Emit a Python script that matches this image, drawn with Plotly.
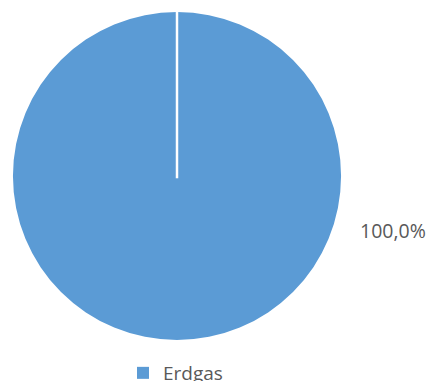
import plotly.graph_objects as go

labels = ["Erdgas"]
values = [100.0]
colors = ["#5B9BD5"]
pct_labels = ["100,0%"]

W, H = 428, 381
# pie placement (pixels)
left, right, top, bottom = 13, 341, 12, 340
dx0, dx1 = left / W, right / W
dy0, dy1 = 1 - bottom / H, 1 - top / H
cx = (dx0 + dx1) / 2
cy = (dy0 + dy1) / 2

fig = go.Figure(go.Pie(
    labels=labels, values=values, sort=False, direction="clockwise", rotation=0,
    marker=dict(colors=colors, line=dict(color="white", width=0)),
    textinfo="none", hoverinfo="label+percent",
    domain=dict(x=[dx0, dx1], y=[dy0, dy1]),
    showlegend=True,
))

# radial separator line (slice start boundary at 12 o'clock)
fig.add_shape(type="line", xref="paper", yref="paper",
              x0=cx, x1=cx, y0=cy - 0.006, y1=dy1,
              line=dict(color="white", width=2.5))

fig.add_annotation(text=pct_labels[0], xref="paper", yref="paper",
                   x=393 / W, y=1 - 230 / H, xanchor="center", yanchor="middle",
                   showarrow=False,
                   font=dict(family="Open Sans, sans-serif", size=19.5, color="#595959"))

fig.update_layout(
    width=W, height=H,
    margin=dict(l=0, r=0, t=0, b=0, autoexpand=False),
    paper_bgcolor="white", plot_bgcolor="white",
    legend=dict(orientation="h", x=0.41, xanchor="center", y=1 - 354 / H, yanchor="top",
                font=dict(family="Open Sans, sans-serif", size=19, color="#595959"),
                itemsizing="constant"),
)

fig.write_html("out.html")
